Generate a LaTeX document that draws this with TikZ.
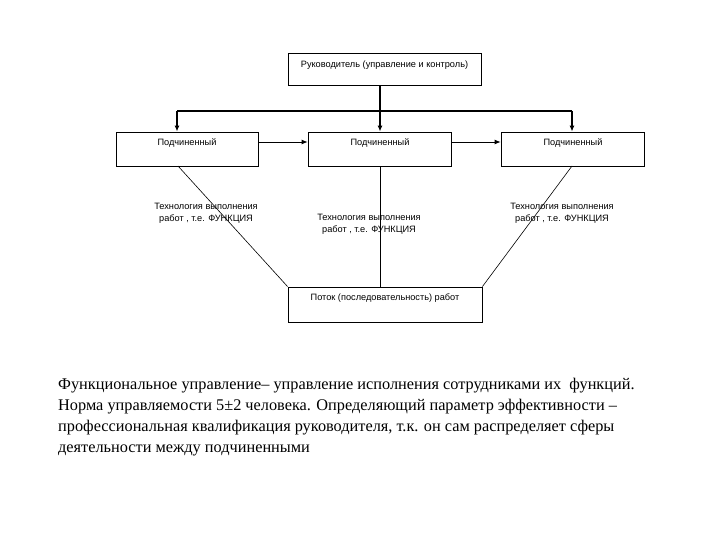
\documentclass[tikz,border=0pt]{standalone}
\usepackage{fontspec}
\setmainfont{Liberation Serif}
\newfontfamily\boxfont{Liberation Sans}
\usetikzlibrary{arrows.meta}
\begin{document}
\begin{tikzpicture}[x=1pt,y=-1pt,
  box/.style={draw,line width=0.8pt,inner sep=0pt},
  lbl/.style={font=\boxfont\fontsize{9.2}{12}\selectfont,align=center,inner sep=0pt},
  thick arrow/.style={line width=1.6pt,-{Latex[length=6pt,width=5pt]}},
  thin arrow/.style={line width=0.8pt,-{Latex[length=6pt,width=5pt]}},
  conn/.style={line width=0.6pt}]
\useasboundingbox (0,0) rectangle (720,540);
% boxes
\node[box,minimum width=193pt,minimum height=32pt] (top) at (384.5,69) {};
\node[lbl] (toptext) at (384.5,65) {Руководитель (управление и контроль)};
\node[box,minimum width=142pt,minimum height=34pt] (s1) at (187,149) {};
\node[box,minimum width=143pt,minimum height=34pt] (s2) at (379.5,149) {};
\node[box,minimum width=143pt,minimum height=34pt] (s3) at (572.5,149) {};
\node[lbl] (s1t) at (187,143) {Подчиненный};
\node[lbl] (s2t) at (380,143) {Подчиненный};
\node[lbl] (s3t) at (573,143) {Подчиненный};
\node[box,minimum width=194pt,minimum height=35pt] (flow) at (385,304.5) {};
\node[lbl] (flowt) at (385,298) {Поток (последовательность) работ};
% coordinates
\coordinate (h1) at (177,111);
\coordinate (h3) at (572,111);
\coordinate (t2) at (380,85);
% arrows from top
\draw[line width=1.6pt] (h1) -- (h3);
\draw[thick arrow] (top.south -| t2) -- (s2.north -| t2);
\draw[thick arrow] (h1) -- (s1.north -| h1);
\draw[thick arrow] (h3) -- (s3.north -| h3);
% horizontal arrows
\draw[thin arrow] (s1.east |- 0,142) -- (s2.west |- 0,142);
\draw[thin arrow] (s2.east |- 0,142) -- (s3.west |- 0,142);
% lines to flow
\coordinate (d1) at (178,166);
\coordinate (d3) at (572,166);
\draw[conn] (d1) -- (flow.north west);
\draw[conn] (d3) -- (flow.north east);
\draw[conn] (s2.south -| t2) -- (flow.north -| t2);
% labels
\node[lbl] (l1) at (206,213.5) {Технология выполнения\\работ , т.е. ФУНКЦИЯ};
\node[lbl] (l2) at (369,224.5) {Технология выполнения\\работ , т.е. ФУНКЦИЯ};
\node[lbl] (l3) at (562,213.5) {Технология выполнения\\работ , т.е. ФУНКЦИЯ};
% paragraph
\node[anchor=north west,inner sep=0pt,align=left,font=\fontsize{16.3}{21}\selectfont] (para) at (58,378)
{Функциональное управление– управление исполнения сотрудниками их \ функций.\\
Норма управляемости 5±2 человека. Определяющий параметр эффективности –\\
профессиональная квалификация руководителя, т.к. он сам распределяет сферы\\
деятельности между подчиненными};
\end{tikzpicture}
\end{document}
